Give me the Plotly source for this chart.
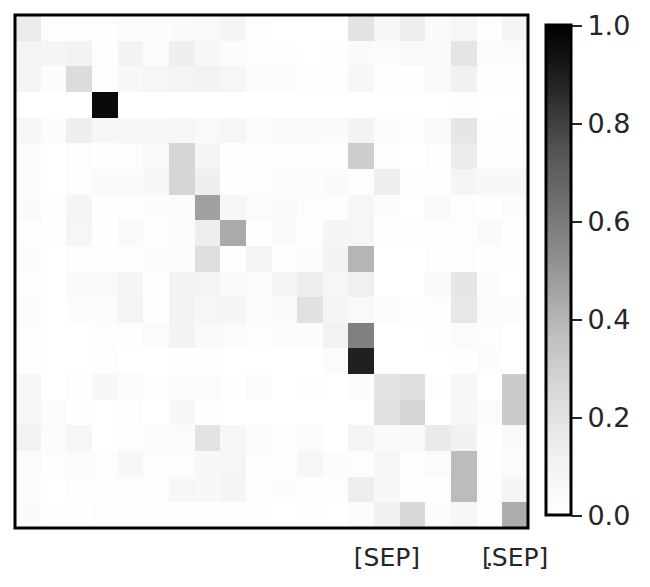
import plotly.graph_objects as go

# attention weights, one list per query token (row), 20 key tokens each
attn = [
    [0.152, 0.017, 0.017, 0.017, 0.025, 0.025, 0.042, 0.05, 0.083, 0.017, 0.0, 0.0, 0.0, 0.196, 0.075, 0.14, 0.042, 0.075, 0.017, 0.083],
    [0.092, 0.083, 0.1, 0.017, 0.1, 0.033, 0.13, 0.058, 0.025, 0.017, 0.017, 0.0, 0.008, 0.042, 0.033, 0.05, 0.042, 0.185, 0.033, 0.033],
    [0.092, 0.025, 0.234, 0.017, 0.058, 0.075, 0.092, 0.108, 0.075, 0.025, 0.025, 0.017, 0.017, 0.067, 0.008, 0.008, 0.05, 0.117, 0.008, 0.008],
    [0.002, 0.002, 0.002, 0.966, 0.002, 0.002, 0.002, 0.002, 0.002, 0.002, 0.002, 0.002, 0.002, 0.002, 0.002, 0.002, 0.002, 0.008, 0.002, 0.002],
    [0.075, 0.025, 0.13, 0.067, 0.067, 0.067, 0.075, 0.05, 0.075, 0.033, 0.05, 0.05, 0.042, 0.1, 0.025, 0.017, 0.05, 0.179, 0.008, 0.017],
    [0.025, 0.0, 0.017, 0.008, 0.017, 0.05, 0.263, 0.083, 0.008, 0.017, 0.017, 0.008, 0.008, 0.304, 0.008, 0.0, 0.017, 0.147, 0.008, 0.008],
    [0.033, 0.0, 0.017, 0.042, 0.042, 0.058, 0.263, 0.13, 0.008, 0.017, 0.025, 0.025, 0.042, 0.017, 0.13, 0.008, 0.008, 0.083, 0.058, 0.058],
    [0.042, 0.008, 0.083, 0.008, 0.017, 0.025, 0.033, 0.468, 0.075, 0.033, 0.042, 0.017, 0.017, 0.075, 0.025, 0.0, 0.042, 0.017, 0.008, 0.025],
    [0.017, 0.017, 0.075, 0.008, 0.05, 0.008, 0.033, 0.136, 0.436, 0.008, 0.042, 0.008, 0.083, 0.075, 0.008, 0.008, 0.017, 0.017, 0.042, 0.008],
    [0.025, 0.0, 0.017, 0.017, 0.017, 0.025, 0.025, 0.223, 0.008, 0.092, 0.008, 0.033, 0.1, 0.401, 0.0, 0.0, 0.017, 0.017, 0.008, 0.008],
    [0.017, 0.0, 0.042, 0.05, 0.083, 0.008, 0.1, 0.092, 0.05, 0.033, 0.092, 0.136, 0.075, 0.125, 0.0, 0.0, 0.042, 0.179, 0.025, 0.0],
    [0.025, 0.0, 0.025, 0.025, 0.092, 0.008, 0.1, 0.075, 0.083, 0.033, 0.042, 0.207, 0.083, 0.05, 0.025, 0.008, 0.017, 0.168, 0.033, 0.025],
    [0.017, 0.0, 0.0, 0.017, 0.017, 0.033, 0.1, 0.05, 0.033, 0.017, 0.033, 0.025, 0.108, 0.579, 0.0, 0.0, 0.008, 0.033, 0.017, 0.0],
    [0.017, 0.0, 0.0, 0.017, 0.0, 0.0, 0.008, 0.008, 0.0, 0.0, 0.0, 0.0, 0.033, 0.892, 0.0, 0.0, 0.0, 0.008, 0.025, 0.0],
    [0.075, 0.0, 0.017, 0.058, 0.033, 0.008, 0.033, 0.033, 0.008, 0.025, 0.0, 0.008, 0.0, 0.025, 0.196, 0.223, 0.008, 0.075, 0.0, 0.313],
    [0.075, 0.025, 0.008, 0.0, 0.017, 0.0, 0.058, 0.008, 0.0, 0.0, 0.0, 0.0, 0.0, 0.0, 0.207, 0.268, 0.0, 0.067, 0.033, 0.313],
    [0.1, 0.025, 0.075, 0.0, 0.017, 0.025, 0.033, 0.196, 0.067, 0.025, 0.008, 0.025, 0.0, 0.092, 0.042, 0.042, 0.158, 0.117, 0.008, 0.05],
    [0.033, 0.017, 0.033, 0.017, 0.067, 0.017, 0.017, 0.058, 0.075, 0.017, 0.008, 0.075, 0.025, 0.017, 0.067, 0.017, 0.033, 0.378, 0.008, 0.033],
    [0.025, 0.0, 0.017, 0.017, 0.017, 0.017, 0.067, 0.058, 0.083, 0.008, 0.025, 0.017, 0.017, 0.136, 0.058, 0.008, 0.008, 0.378, 0.008, 0.083],
    [0.042, 0.008, 0.008, 0.017, 0.017, 0.008, 0.008, 0.008, 0.008, 0.008, 0.0, 0.008, 0.0, 0.033, 0.117, 0.254, 0.033, 0.067, 0.008, 0.426],
]

label_pos = [14, 18, 19]
label_txt = ["[SEP]", ".", "[SEP]"]

# matplotlib "Greys"
greys = [
    [0.0, "#ffffff"], [0.125, "#f0f0f0"], [0.25, "#d9d9d9"], [0.375, "#bdbdbd"],
    [0.5, "#969696"], [0.625, "#737373"], [0.75, "#525252"], [0.875, "#252525"],
    [1.0, "#000000"],
]

# the page body has an 8px margin, so the figure is 8px smaller and everything shifted by -8
OFF = 8
W, H = 650 - OFF, 587 - OFF
x0, x1 = 15 - OFF, 528 - OFF
y0, y1 = 15 - OFF, 528 - OFF

fig = go.Figure(go.Heatmap(
    z=attn,
    colorscale=greys,
    zmin=0, zmax=1,
    colorbar=dict(
        thickness=25,
        thicknessmode="pixels",
        len=490,
        lenmode="pixels",
        x=(545.5 - OFF) / W,
        xanchor="left",
        y=1 - (25.5 - OFF) / H,
        yanchor="top",
        xpad=0, ypad=0,
        outlinewidth=3,
        outlinecolor="black",
        ticks="outside",
        ticklen=10,
        tickwidth=2,
        tickcolor="#262626",
        tickvals=[0, 0.2, 0.4, 0.6, 0.8, 1.0],
        ticktext=["0.0", "0.2", "0.4", "0.6", "0.8", "1.0"],
        tickfont=dict(size=27, color="#262626", family="DejaVu Sans"),
    ),
))

fig.update_xaxes(
    domain=[x0 / W, x1 / W],
    tickvals=label_pos,
    ticktext=label_txt,
    ticks="",
    tickangle=0,
    tickfont=dict(size=25, color="#262626", family="DejaVu Sans"),
    ticklabelstandoff=12,
    showgrid=False, zeroline=False,
    range=[-0.5, 19.5],
)
fig.update_yaxes(
    domain=[1 - y1 / H, 1 - y0 / H],
    showticklabels=False,
    ticks="",
    showgrid=False, zeroline=False,
    range=[19.5, -0.5],
)

fig.add_shape(
    type="rect", xref="paper", yref="paper",
    x0=x0 / W, x1=x1 / W, y0=1 - y1 / H, y1=1 - y0 / H,
    line=dict(color="black", width=3),
)

fig.update_layout(
    width=W, height=H,
    margin=dict(l=0, r=0, t=0, b=0, autoexpand=False),
    paper_bgcolor="white",
    plot_bgcolor="white",
    font=dict(family="DejaVu Sans", color="#262626"),
)

fig.write_html("out.html")
